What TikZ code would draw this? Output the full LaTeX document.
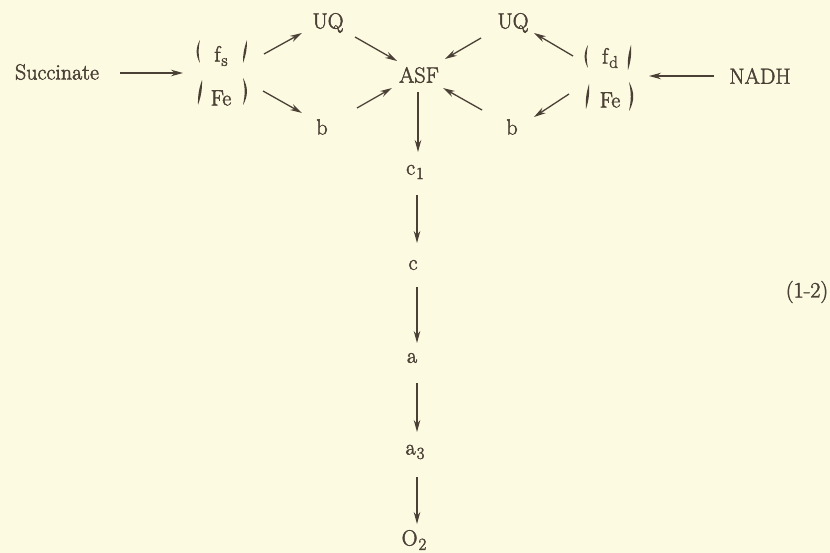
\documentclass[tikz,border=0pt]{standalone}
\usepackage{fontspec}
\setmainfont{Latin Modern Roman}[FakeBold=2]
\usetikzlibrary{arrows.meta,calc}
\definecolor{bg}{HTML}{FCFAE1}
\definecolor{ink}{HTML}{4A4036}
\newcommand{\sbs}[1]{\raisebox{-0.2em}{\fontsize{17}{20}\selectfont #1}}
\begin{document}
\begin{tikzpicture}[x=1pt,y=-1pt,
  lab/.style={inner sep=0pt,text=ink,font=\fontsize{22}{26}\selectfont},
  arr/.style={draw=ink,line width=1.3pt,-{Stealth[length=12pt,width=6.5pt]}},
  brk/.style={fill=ink}]
\fill[bg] (0,0) rectangle (830,553);
\useasboundingbox (0,0) rectangle (830,553);
% nodes
\node[lab] (S) at (57,72) {Succinate};
\coordinate (lg) at (222,76);
\node[lab] (fs) at (221,56) {f\kern1pt\sbs{s}};
\node[lab] (feL) at (221,98) {Fe};
\node[lab] (UQL) at (328,23) {UQ};
\node[lab] (bL) at (322,127) {b};
\node[lab] (ASF) at (419,75) {ASF};
\node[lab] (UQR) at (513,23) {UQ};
\node[lab] (bR) at (512,127) {b};
\coordinate (rg) at (610,78);
\node[lab] (fd) at (610,58) {f\kern1pt\sbs{d}};
\node[lab] (feR) at (610,100) {Fe};
\node[lab] (NADH) at (760,76) {NADH};
\node[lab] (c1) at (415,172) {c\kern1pt\sbs{1}};
\node[lab] (c) at (413,265) {c};
\node[lab] (a) at (412,358) {a};
\node[lab] (a3) at (415,452) {a\kern1pt\sbs{3}};
\node[lab] (O2) at (414,540) {O\kern1pt\sbs{2}};
\node[lab] (eq) at (807,292) {(1-2)};
% brackets left group (tapered strokes)
\fill[brk] ($(lg)+(-22,-36)$) to[bend right=30] ($(lg)+(-22,-13)$) to[bend left=12] cycle;
\fill[brk] ($(lg)+(25,-36)$) to[bend right=10] ($(lg)+(21,-13)$) to[bend right=10] cycle;
\fill[brk] ($(lg)+(-20,4)$) to[bend right=10] ($(lg)+(-24,29)$) to[bend right=10] cycle;
\fill[brk] ($(lg)+(21,2)$) to[bend left=30] ($(lg)+(21,29)$) to[bend right=12] cycle;
% brackets right group
\fill[brk] ($(rg)+(-22,-33)$) to[bend right=30] ($(rg)+(-22,-10)$) to[bend left=12] cycle;
\fill[brk] ($(rg)+(21,-33)$) to[bend right=10] ($(rg)+(18,-8)$) to[bend right=10] cycle;
\fill[brk] ($(rg)+(-21,6)$) to[bend right=10] ($(rg)+(-24,31)$) to[bend right=10] cycle;
\fill[brk] ($(rg)+(19,4)$) to[bend left=30] ($(rg)+(19,33)$) to[bend right=12] cycle;
% arrows
\draw[arr] ($(S)+(63,1)$) -- ($(lg)+(-39,-3)$);
\draw[arr] ($(lg)+(42,-22)$) -- ($(UQL)+(-26,10)$);
\draw[arr] ($(lg)+(41,15)$) -- ($(bL)+(-20,-14)$);
\draw[arr] ($(UQL)+(27,14)$) -- ($(ASF)+(-22,-14)$);
\draw[arr] ($(bL)+(35,-19)$) -- ($(ASF)+(-27,13)$);
\draw[arr] ($(rg)+(-37,-22)$) -- ($(UQR)+(21,10)$);
\draw[arr] ($(rg)+(-41,16)$) -- ($(bR)+(22,-10)$);
\draw[arr] ($(UQR)+(-32,15)$) -- ($(ASF)+(26,-16)$);
\draw[arr] ($(bR)+(-30,-17)$) -- ($(ASF)+(24,13)$);
\draw[arr] ($(NADH)+(-46,0)$) -- ($(rg)+(39,-2)$);
\draw[arr] ($(ASF)+(-1,17)$) -- ($(c1)+(3,-20)$);
\draw[arr] ($(c1)+(2,23)$) -- ($(c)+(4,-22)$);
\draw[arr] ($(c)+(4,22)$) -- ($(a)+(5,-15)$);
\draw[arr] ($(a)+(5,25)$) -- ($(a3)+(2,-20)$);
\draw[arr] ($(a3)+(2,25)$) -- ($(O2)+(3,-16)$);
\end{tikzpicture}
\end{document}
